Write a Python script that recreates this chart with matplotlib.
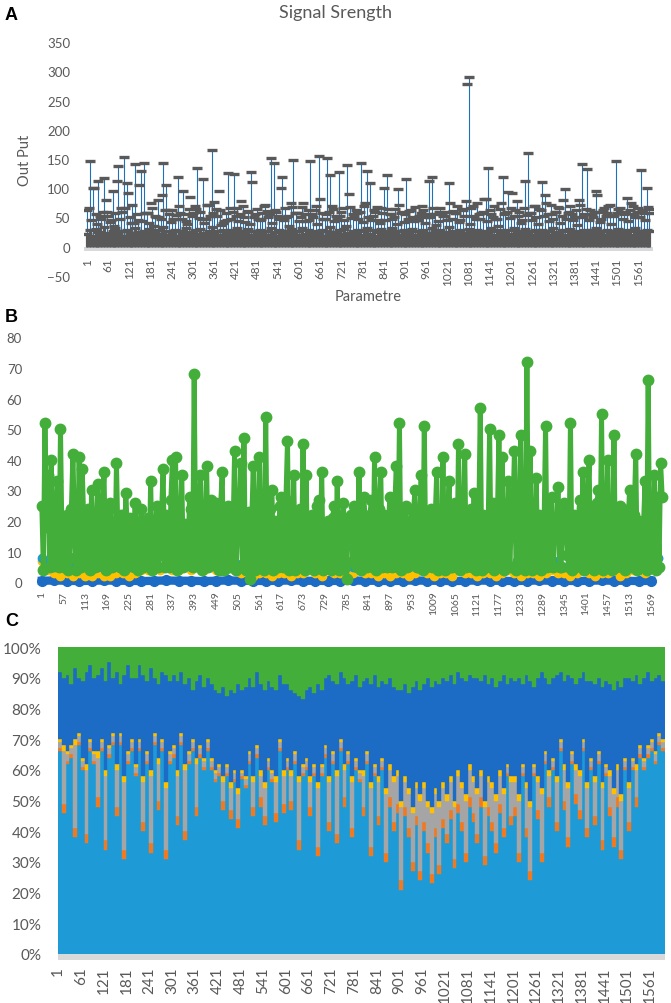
import numpy as np
import matplotlib.pyplot as plt

plt.rcParams['font.family'] = ['Lato', 'DejaVu Sans']
GREY = '#595959'

# ---------------- A: signal strength (read every 8th parameter)
out_peak = [62, 147, 101, 55, 113, 48, 118, 60, 42, 95, 58, 138, 66, 153, 109, 50, 72, 142, 45, 129,
            143, 58, 40, 66, 52, 80, 47, 143, 106, 55, 62, 48, 119, 57, 95, 44, 65, 52, 70, 135,
            60, 115, 48, 72, 165, 77, 52, 63, 40, 58, 126, 47, 125, 66, 55, 70, 42, 61, 128, 50,
            64, 45, 58, 72, 50, 151, 143, 60, 48, 120, 66, 52, 75, 149, 58, 44, 68, 55, 62, 146,
            50, 70, 155, 58, 47, 151, 123, 64, 52, 127, 60, 45, 139, 68, 55, 62, 48, 143, 70, 129,
            109, 52, 60, 45, 66, 100, 122, 55, 48, 64, 99, 58, 42, 115, 61, 50, 68, 45, 57, 62,
            50, 113, 119, 55, 44, 66, 52, 60, 109, 48, 58, 70, 45, 62, 78, 291, 66, 52, 75, 48,
            60, 82, 135, 55, 70, 48, 64, 119, 58, 94, 66, 52, 78, 60, 45, 113, 161, 58, 70, 50,
            64, 110, 89, 55, 72, 48, 60, 66, 52, 98, 58, 70, 45, 63, 80, 142, 55, 133, 62, 50,
            95, 60, 48, 66, 58, 72, 52, 147, 64, 60, 55, 83, 62, 70, 50, 66, 132, 58, 100, 64]
out_mid = [66, 100, 52, 80, 45, 112, 60, 92, 40, 105, 58, 75, 50, 88, 62, 47, 70, 55, 85, 64,
           48, 72, 58, 95, 44, 66, 52, 78, 60, 110, 48, 70, 55, 62, 100, 50, 68, 58, 74, 45,
           62, 82, 55, 70, 48, 66, 90, 52, 60, 75, 45, 68, 58, 64, 50, 72, 56, 62, 48, 70,
           55, 66, 60, 52, 74, 58, 64, 279, 70, 56, 82, 62, 48, 75, 60, 92, 52, 66, 58, 70,
           62, 74, 55, 68, 80, 60, 50, 72, 64, 56, 88, 62, 70, 54, 66, 58, 75, 60, 62, 68]
out_mid2 = [45, 38, 60, 52, 35, 48, 66, 40, 55, 44, 58, 36, 50, 62, 42, 54, 47, 39, 57, 49,
            41, 53, 64, 37, 46, 59, 43, 51, 38, 56, 48, 61, 40, 52, 45, 35, 58, 50, 43, 55,
            39, 47, 60, 44, 53, 36, 49, 57, 42, 51, 63, 40, 46, 55, 38, 59, 48, 44, 52, 41,
            50, 37, 56, 45, 61, 42, 53, 39, 47, 58, 43, 50, 36, 55, 49, 62, 41, 54, 46, 38,
            52, 44, 59, 40, 48, 56, 37, 51, 45, 60, 42, 53, 39, 57, 47, 43, 55, 50, 46, 58]
out_low = [22, 28, 18, 30, 25, 20, 33, 24, 19, 27, 31, 22, 26, 18, 29, 24, 21, 32, 25, 20,
           27, 23, 30, 19, 25, 28, 22, 34, 20, 26, 24, 29, 18, 27, 23, 31, 21, 25, 28, 22,
           30, 24, 19, 27, 33, 22, 26, 20, 29, 24, 18, 28, 25, 31, 21, 26, 23, 30, 19, 27,
           24, 29, 22, 26, 20, 32, 25, 18, 28, 23, 27, 21, 30, 24, 26, 19, 31, 22, 28, 25,
           20, 27, 23, 29, 18, 26, 33, 22, 25, 28, 21, 30, 24, 19, 27, 23, 29, 20, 26, 31,
           22, 28, 18, 25, 30, 23, 27, 21, 32, 24, 26, 19, 28, 22, 25, 30, 20, 27, 23, 29,
           24, 18, 31, 26, 22, 28, 20, 25, 33, 23, 27, 21, 29, 24, 19, 30, 26, 22, 28, 25,
           21, 27, 23, 32, 20, 26, 29, 24, 18, 28, 22, 31, 25, 27, 21, 30, 23, 26, 19, 28,
           24, 29, 22, 27, 20, 31, 25, 23, 28, 19, 26, 30, 22, 27, 24, 18, 29, 25, 21, 28,
           32, 23, 26, 20, 29, 24, 27, 22, 30, 25, 21, 28, 26, 19, 31, 23, 27, 24, 29, 26]

# ---------------- B (green read at parameters 1, 9, 17 ... and 5, 13, 21 ...)
b_green = [25, 52, 35, 40, 6, 33, 50, 5, 22, 8, 42, 4, 41, 37, 7, 24, 30, 5, 32, 9,
           36, 6, 26, 18, 39, 5, 22, 29, 7, 20, 26, 4, 24, 8, 21, 33, 6, 25, 9, 37,
           22, 5, 40, 41, 7, 35, 19, 6, 24, 68, 8, 35, 5, 38, 20, 7, 26, 4, 36, 9,
           25, 6, 43, 18, 39, 47, 5, 1, 38, 7, 41, 22, 54, 6, 30, 20, 5, 28, 8, 46,
           19, 35, 6, 24, 45, 35, 7, 22, 5, 27, 36, 8, 20, 4, 25, 33, 6, 26, 1, 18,
           7, 24, 36, 5, 21, 9, 27, 41, 6, 36, 22, 5, 28, 8, 38, 52, 6, 25, 20, 7,
           30, 5, 35, 51, 8, 24, 6, 36, 22, 41, 7, 33, 5, 26, 45, 9, 42, 6, 24, 29,
           7, 57, 22, 5, 50, 26, 8, 48, 41, 6, 33, 20, 43, 7, 48, 25, 72, 43, 5, 34,
           22, 8, 51, 6, 28, 20, 31, 5, 26, 9, 52, 22, 6, 27, 36, 5, 40, 24, 8, 30,
           55, 6, 40, 22, 48, 7, 25, 24, 5, 30, 8, 42, 20, 6, 33, 66, 9, 35, 28, 39]
b_green_mid = [4, 18, 5, 22, 16, 5, 12, 20, 4, 24, 17, 6, 5, 19, 23, 4, 5, 18, 6, 25,
               4, 24, 5, 6, 13, 22, 4, 17, 21, 5, 6, 19, 5, 14, 6, 4, 17, 5, 22, 5,
               15, 27, 5, 4, 18, 5, 14, 28, 5, 6, 19, 4, 16, 5, 27, 13, 5, 25, 4, 24,
               5, 17, 4, 20, 5, 4, 23, 19, 4, 21, 5, 4, 5, 24, 4, 16, 25, 5, 27, 4,
               5, 4, 21, 5, 4, 5, 17, 4, 25, 5, 4, 6, 19, 21, 5, 4, 20, 5, 18, 22,
               25, 5, 4, 28, 5, 22, 5, 4, 24, 5, 18, 21, 5, 25, 5, 4, 20, 5, 14, 23,
               5, 19, 4, 5, 16, 5, 21, 4, 5, 4, 23, 5, 20, 5, 4, 17, 5, 22, 5, 4,
               19, 4, 5, 16, 5, 4, 21, 5, 4, 18, 5, 23, 4, 20, 5, 4, 5, 4, 17, 5,
               4, 18, 5, 21, 5, 16, 5, 22, 19, 5, 4, 5, 20, 5, 4, 25, 5, 4, 26, 5,
               4, 17, 5, 4, 5, 20, 5, 4, 18, 5, 22, 4, 5, 19, 4, 5, 6, 4, 5, 28]
b_yellow = [7, 4, 3, 2, 3, 2, 3, 2, 2, 3, 2, 2, 3, 3, 2, 3, 4, 4, 5, 4,
            5, 4, 4, 5, 4, 5, 4, 5, 4, 4, 5, 4, 3, 5, 2, 3, 3, 2, 3, 3,
            2, 3, 3, 4, 3, 2, 4, 3, 3, 2, 3, 4, 3, 3, 2, 3, 2, 3, 3, 2,
            3, 4, 3, 2, 3, 3, 2, 4, 3, 3, 2, 3, 3, 2, 3, 4, 3, 2, 3, 3,
            2, 3, 4, 3, 3, 2, 3, 4, 3, 2, 3, 3, 4, 2, 3, 4, 5, 3, 6, 8]
b_lblue = [8, 7, 5, 6, 5, 6, 5, 7, 6, 5, 6, 5, 7, 6, 5, 6, 7, 5, 6, 5,
           6, 5, 6, 7, 5, 6, 5, 6, 5, 7, 6, 5, 6, 5, 7, 6, 5, 6, 5, 6,
           5, 6, 7, 5, 6, 5, 6, 5, 7, 6, 5, 6, 5, 6, 7, 5, 6, 5, 6, 5,
           6, 7, 5, 6, 5, 6, 7, 5, 6, 5, 6, 5, 6, 7, 5, 6, 5, 6, 5, 7,
           6, 5, 6, 7, 5, 6, 8, 9, 6, 7, 6, 5, 7, 8, 6, 9, 10, 8, 9, 8]
b_dblue = [0.5, 0.6, 0.5, 0.4, 0.5, 0.6, 0.5, 0.5, 0.4, 0.5, 0.6, 0.5, 0.5, 0.4, 0.5, 0.6, 0.5,
           0.5, 0.4, 0.5, 0.6, 0.5, 0.5, 0.4, 0.5, 0.6, 0.5, 0.5, 0.4, 0.5, 0.6, 0.5, 0.5, 0.4,
           0.5, 0.6, 0.5, 0.5, 0.4, 0.5, 0.6, 0.5, 0.5, 0.4, 0.5, 0.6, 0.5, 0.5, 0.4, 0.5]

# ---------------- C: stacked shares (read every 10th parameter)
c_lblue = [66, 46, 62, 64, 38, 68, 60, 36, 66, 62, 48, 66, 34, 64, 68, 45, 68, 31, 62, 66,
           58, 66, 40, 62, 33, 68, 47, 66, 31, 62, 64, 42, 68, 37, 62, 66, 45, 64, 60, 66,
           60, 56, 58, 47, 58, 44, 56, 41, 57, 54, 62, 45, 64, 48, 42, 60, 56, 43, 66, 46,
           60, 47, 62, 34, 58, 60, 45, 58, 32, 58, 64, 40, 62, 36, 66, 48, 62, 38, 60, 56,
           45, 62, 32, 58, 42, 60, 30, 48, 40, 46, 21, 45, 38, 27, 42, 24, 40, 33, 23, 38,
           26, 41, 36, 44, 28, 46, 40, 30, 48, 43, 36, 48, 29, 45, 40, 33, 46, 38, 58, 42,
           45, 30, 58, 38, 24, 58, 44, 30, 62, 48, 60, 40, 66, 47, 35, 62, 49, 44, 66, 38,
           60, 42, 62, 34, 58, 45, 35, 48, 31, 60, 40, 60, 48, 64, 60, 64, 66, 62, 68, 66]
c_orange = [1, 3, 1, 1, 3, 1, 1, 3, 1, 1, 3, 1, 3, 1, 1, 3, 1, 3, 1, 1,
            1, 1, 3, 1, 3, 1, 3, 1, 3, 1, 1, 3, 1, 3, 1, 1, 3, 1, 1, 1,
            1, 1, 1, 3, 1, 3, 1, 3, 1, 1, 1, 3, 1, 3, 3, 1, 1, 3, 1, 3,
            1, 3, 1, 3, 1, 1, 3, 1, 3, 1, 1, 3, 1, 3, 1, 3, 1, 3, 1, 1,
            3, 1, 3, 1, 3, 1, 3, 3, 3, 3, 3, 3, 3, 3, 3, 3, 3, 3, 3, 3,
            3, 3, 3, 3, 3, 3, 3, 3, 3, 3, 3, 3, 3, 3, 3, 3, 3, 3, 1, 3,
            3, 3, 1, 3, 3, 1, 3, 3, 1, 3, 1, 3, 1, 3, 3, 1, 3, 3, 1, 3,
            1, 3, 1, 3, 1, 3, 3, 3, 3, 1, 3, 1, 3, 1, 1, 1, 1, 1, 1, 1]
c_gray = [2, 17, 2, 2, 27, 2, 2, 21, 2, 2, 13, 2, 21, 2, 2, 12, 2, 22, 2, 2,
          2, 2, 13, 2, 22, 2, 12, 2, 20, 2, 2, 13, 2, 20, 2, 2, 14, 2, 2, 2,
          2, 2, 2, 6, 2, 7, 2, 8, 1, 2, 2, 8, 2, 7, 9, 2, 2, 10, 2, 9,
          2, 8, 2, 19, 2, 2, 8, 2, 19, 2, 2, 13, 2, 19, 2, 9, 2, 15, 2, 2,
          10, 2, 19, 2, 11, 2, 19, 9, 13, 9, 24, 8, 11, 16, 9, 23, 11, 12, 20, 11,
          19, 10, 11, 9, 17, 9, 11, 17, 9, 10, 13, 7, 16, 8, 11, 14, 9, 11, 2, 11,
          8, 17, 2, 13, 21, 2, 9, 19, 2, 7, 2, 13, 2, 10, 16, 2, 8, 11, 2, 13,
          2, 11, 2, 17, 2, 10, 14, 9, 16, 2, 11, 2, 9, 2, 2, 2, 2, 2, 2, 2]
c_yellow = [1, 2, 1, 1, 2, 1, 1, 2, 1, 1, 2, 1, 2, 1, 1, 2, 1, 2, 1, 1,
            1, 1, 2, 1, 2, 1, 2, 1, 2, 1, 1, 2, 1, 2, 1, 1, 2, 1, 1, 1,
            1, 1, 1, 2, 1, 2, 1, 2, 1, 1, 1, 2, 1, 2, 2, 1, 1, 2, 1, 2,
            1, 2, 1, 2, 1, 1, 2, 1, 2, 1, 1, 2, 1, 2, 1, 2, 1, 2, 1, 1,
            2, 1, 2, 1, 2, 1, 2, 2, 2, 2, 2, 2, 2, 2, 2, 2, 2, 2, 2, 2,
            2, 2, 2, 2, 2, 2, 2, 2, 2, 2, 2, 2, 2, 2, 2, 2, 2, 2, 1, 2,
            2, 2, 1, 2, 2, 1, 2, 2, 1, 2, 1, 2, 1, 2, 2, 1, 2, 2, 1, 2,
            1, 2, 1, 2, 1, 2, 2, 2, 2, 1, 2, 1, 2, 1, 1, 1, 1, 1, 1, 1]
c_dblue = [22, 22, 25, 20, 23, 18, 25, 30, 24, 24, 25, 23, 29, 27, 18, 30, 16, 33, 28, 20,
           28, 24, 33, 23, 33, 18, 24, 22, 35, 23, 23, 29, 20, 26, 24, 16, 25, 23, 23, 20,
           24, 26, 23, 29, 22, 30, 25, 34, 26, 29, 24, 29, 24, 28, 30, 25, 27, 28, 21, 28,
           24, 26, 19, 26, 21, 22, 29, 23, 32, 24, 22, 33, 23, 28, 22, 28, 22, 31, 27, 27,
           29, 24, 32, 29, 29, 25, 34, 28, 29, 26, 36, 30, 31, 39, 33, 34, 32, 40, 39, 35,
           38, 34, 37, 33, 38, 32, 34, 37, 29, 32, 36, 29, 41, 30, 34, 35, 29, 37, 26, 32,
           31, 38, 26, 35, 39, 25, 32, 38, 24, 28, 26, 33, 22, 27, 35, 24, 26, 30, 22, 33,
           25, 30, 24, 31, 27, 28, 32, 27, 35, 26, 34, 25, 29, 20, 26, 24, 19, 24, 19, 19]
c_green = [8, 10, 9, 12, 7, 10, 11, 8, 6, 10, 9, 7, 11, 5, 10, 8, 12, 9, 6, 10,
           10, 6, 9, 11, 7, 10, 12, 8, 9, 11, 9, 11, 8, 12, 10, 14, 11, 9, 13, 10,
           12, 14, 15, 13, 16, 14, 15, 12, 14, 13, 10, 13, 8, 12, 14, 11, 13, 14, 9, 12,
           12, 14, 15, 16, 17, 14, 13, 15, 12, 14, 10, 9, 11, 12, 8, 10, 12, 11, 9, 13,
           11, 10, 12, 9, 13, 11, 12, 10, 13, 14, 14, 12, 15, 13, 11, 14, 12, 10, 13, 11,
           12, 10, 11, 9, 12, 8, 10, 11, 9, 10, 10, 11, 9, 12, 10, 13, 11, 9, 12, 10,
           11, 10, 12, 9, 11, 13, 10, 8, 10, 12, 10, 9, 8, 11, 9, 10, 12, 10, 8, 11,
           11, 12, 10, 13, 11, 12, 14, 11, 13, 10, 10, 11, 9, 12, 10, 8, 11, 10, 9, 11]

ticks_ac = [1, 61, 121, 181, 241, 301, 361, 421, 481, 541, 601, 661, 721, 781, 841, 901,
            961, 1021, 1081, 1141, 1201, 1261, 1321, 1381, 1441, 1501, 1561]
ticks_b = [1, 57, 113, 169, 225, 281, 337, 393, 449, 505, 561, 617, 673, 729, 785, 841, 897,
           953, 1009, 1065, 1121, 1177, 1233, 1289, 1345, 1401, 1457, 1513, 1569]

W, H = 671, 1004
fig = plt.figure(figsize=(W / 100, H / 100), dpi=100)


def box(left, top, right, bottom):
    return [left / W, 1 - bottom / H, (right - left) / W, (bottom - top) / H]


def clean(ax):
    for s in ax.spines.values():
        s.set_visible(False)
    ax.tick_params(length=0, colors=GREY)


# ---- A
axA = fig.add_axes(box(84, 43.3, 653, 276.7))
clean(axA)
cat8 = np.arange(1, 1600, 8)
cat16 = np.arange(5, 1600, 16)
cat16b = np.arange(13, 1600, 16)
axA.axhspan(-8, 0, color='#D9D9D9', lw=0, zorder=1)
axA.vlines(cat8, 0, out_peak, color='#1F70B8', lw=0.8, zorder=1.5)
axA.vlines(cat8, 0, out_low, color=GREY, lw=2.3, zorder=2)
dash = dict(ls='none', marker='_', ms=6.5, mew=2.4, color=GREY, zorder=4)
axA.plot(cat8, out_peak, **dash)
axA.plot(cat16, out_mid, **dash)
axA.plot(cat16b, out_mid2, **dash)
axA.plot(cat8, out_low, **dash)
axA.set_xlim(-8, 1603)
axA.set_ylim(-50, 350)
axA.set_yticks(range(-50, 351, 50))
axA.spines['bottom'].set_position(('data', 0))
axA.set_xticks(ticks_ac)
axA.set_xticklabels([str(t) for t in ticks_ac], rotation=90)
axA.tick_params(axis='x', labelsize=8.5, pad=8)
axA.tick_params(axis='y', labelsize=9.5, pad=10)
axA.set_ylabel('Out Put', fontsize=10.5, color=GREY)
axA.yaxis.set_label_coords((32 - 84) / 569, 0.5)
axA.text(0.5, -0.087, 'Parametre', transform=axA.transAxes, ha='center', va='center',
         fontsize=10.5, color=GREY)
fig.text(0.5, 1 - 13 / H, 'Signal Srength', ha='center', va='center', fontsize=13, color=GREY)

# ---- B
axB = fig.add_axes(box(36, 338.3, 668, 583.3))
clean(axB)
b_cat16 = np.arange(1, 1600, 16)
b_cat32 = np.arange(1, 1600, 32)
gx = np.concatenate([cat8, cat8 + 4])
gy = np.concatenate([b_green, b_green_mid])
order = np.argsort(gx)
axB.plot(b_cat32, b_dblue, color='#1C6BC4', lw=6, marker='o', ms=7, clip_on=False, zorder=2)
axB.plot(b_cat16, b_yellow, color='#FFC000', lw=4, marker='o', ms=6, clip_on=False, zorder=3)
axB.plot(b_cat16, b_lblue, color='#1E9BD7', lw=2, marker='o', ms=6, clip_on=False, zorder=3)
axB.plot(gx[order], gy[order], color='#43AE3A', lw=3.6, marker='o', ms=7.5,
         clip_on=False, zorder=5)
axB.set_xlim(-14, 1612)
axB.set_ylim(0, 80)
axB.set_yticks(range(0, 81, 10))
axB.set_xticks(ticks_b)
axB.set_xticklabels([str(t) for t in ticks_b], rotation=90)
axB.tick_params(axis='x', labelsize=7.5, pad=6)
axB.tick_params(axis='y', labelsize=9.5, pad=10)

# ---- C
axC = fig.add_axes(box(58, 648, 665, 955))
clean(axC)
c_cat = np.arange(1, 1600, 10)
c_colors = ['#1E9BD7', '#F07A22', '#A5A5A5', '#FFC000', '#1C6BC4', '#43AE3A']
vals = np.array([c_lblue, c_orange, c_gray, c_yellow, c_dblue, c_green], dtype=float)
pct = vals / vals.sum(axis=0) * 100
bottom = np.zeros(pct.shape[1])
for row, col in zip(pct, c_colors):
    axC.bar(c_cat - 0.5, row, width=10, bottom=bottom, align='edge', color=col,
            edgecolor=col, lw=0.3, zorder=3)
    bottom += row
axC.add_patch(plt.Rectangle((0, -0.018), 1, 0.018, transform=axC.transAxes,
                            color='#D9D9D9', clip_on=False, lw=0))
axC.set_xlim(0.5, 1600.5)
axC.set_ylim(0, 100)
axC.set_yticks(range(0, 101, 10))
axC.set_yticklabels([f'{v}%' for v in range(0, 101, 10)])
axC.set_xticks(ticks_ac)
axC.set_xticklabels([str(t) for t in ticks_ac], rotation=90)
axC.tick_params(axis='x', labelsize=11, pad=9)
axC.tick_params(axis='y', labelsize=11, pad=12)

for lab, y in [('A', 15), ('B', 318), ('C', 622)]:
    fig.text(5 / W, 1 - y / H, lab, ha='left', va='center', fontsize=13,
             fontweight='bold', family=['Liberation Sans', 'DejaVu Sans'])

fig.savefig('out.png', dpi=100)
